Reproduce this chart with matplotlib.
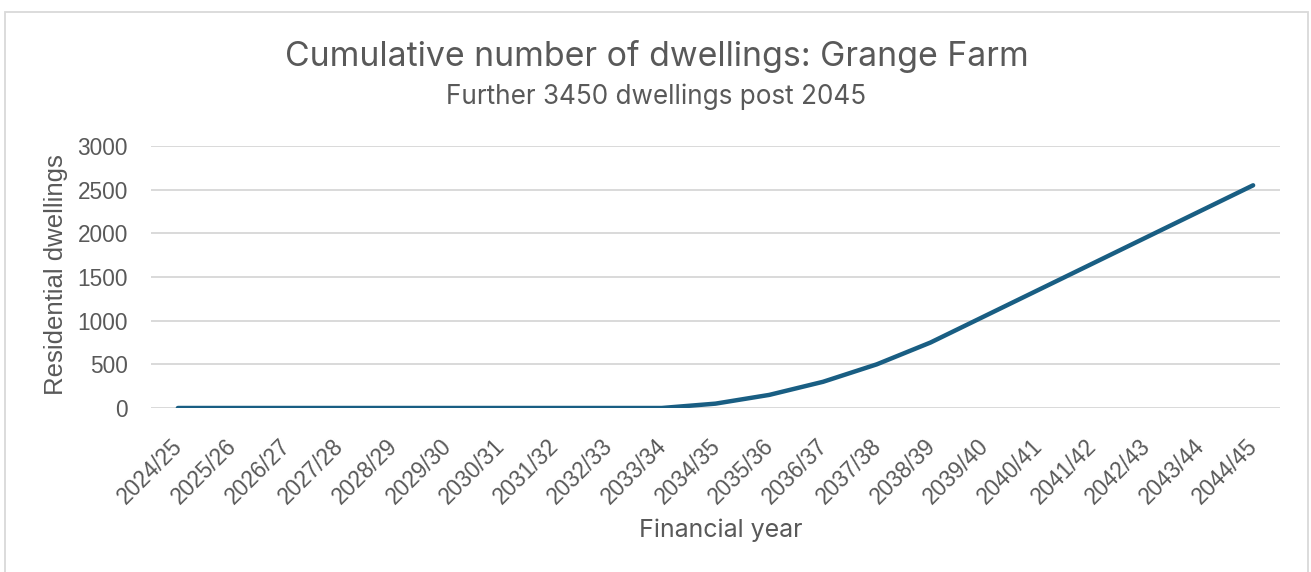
import matplotlib
matplotlib.use("Agg")
import matplotlib.pyplot as plt
from matplotlib.patches import Rectangle
from matplotlib.transforms import ScaledTranslation

# Financial years and cumulative dwellings completed
years = ["2024/25", "2025/26", "2026/27", "2027/28", "2028/29", "2029/30",
         "2030/31", "2031/32", "2032/33", "2033/34", "2034/35", "2035/36",
         "2036/37", "2037/38", "2038/39", "2039/40", "2040/41", "2041/42",
         "2042/43", "2043/44", "2044/45"]
dwellings = [0, 0, 0, 0, 0, 0, 0, 0, 0, 0, 50, 150, 300, 500, 750,
             1050, 1350, 1650, 1950, 2250, 2550]
y_ticks = [0, 500, 1000, 1500, 2000, 2500, 3000]

title = "Cumulative number of dwellings: Grange Farm"
subtitle = "Further 3450 dwellings post 2045"
x_label = "Financial year"
y_label = "Residential dwellings"

W, H, DPI = 1311, 572, 100
heading = ["Inter", "Liberation Sans", "DejaVu Sans"]
sans = ["Liberation Sans", "DejaVu Sans"]
text_col = "#595959"
grid_col = "#d9d9d9"
line_col = "#195E83"

fig = plt.figure(figsize=(W / DPI, H / DPI), dpi=DPI)
fig.patch.set_facecolor("white")

# chart frame
fig.patches.append(Rectangle((4.5 / W, -0.05), (1308 - 4.5) / W, 1.05 - 11.5 / H,
                             transform=fig.transFigure, fill=False,
                             edgecolor=grid_col, linewidth=1.3))

left, right = 151 / W, 1280 / W
bottom, top = (H - 408) / H, (H - 146) / H
ax = fig.add_axes([left, bottom, right - left, top - bottom])

x = list(range(len(years)))
ax.plot(x, dwellings, color=line_col, linewidth=3.2,
        solid_capstyle="round", solid_joinstyle="round", zorder=3)

ax.set_xlim(-0.5, len(years) - 0.5)
ax.set_ylim(0, 3000)
ax.set_yticks(y_ticks)
ax.set_yticklabels([str(v) for v in y_ticks], family=sans, fontsize=16.3,
                   color=text_col)
ax.set_xticks(x)
ax.set_xticklabels(years, family=sans, fontsize=16.3, color=text_col,
                   rotation=45, ha="right", va="top", rotation_mode="anchor")

ax.grid(axis="y", color=grid_col, linewidth=1.4)
ax.set_axisbelow(True)
for s in ax.spines.values():
    s.set_visible(False)
ax.tick_params(axis="both", length=0)
ax.tick_params(axis="y", pad=16.5)
ax.tick_params(axis="x", pad=19)

# nudge the slanted year labels slightly left of their category
shift = ScaledTranslation(-7 / DPI, 0, fig.dpi_scale_trans)
for lab in ax.get_xticklabels():
    lab.set_transform(lab.get_transform() + shift)

fig.text(657 / W, 1 - 66 / H, title, family=heading, fontsize=24.4,
         color=text_col, ha="center", va="baseline")
fig.text(656 / W, 1 - 104 / H, subtitle, family=heading, fontsize=18.8,
         color=text_col, ha="center", va="baseline")
fig.text(721 / W, 1 - 537.5 / H, x_label, family=heading, fontsize=18,
         color=text_col, ha="center", va="baseline")
fig.text(56 / W, 1 - 275 / H, y_label, family=sans, fontsize=18.5,
         color=text_col, ha="center", va="center", rotation=90)

fig.savefig("out.png", dpi=DPI, facecolor="white")
